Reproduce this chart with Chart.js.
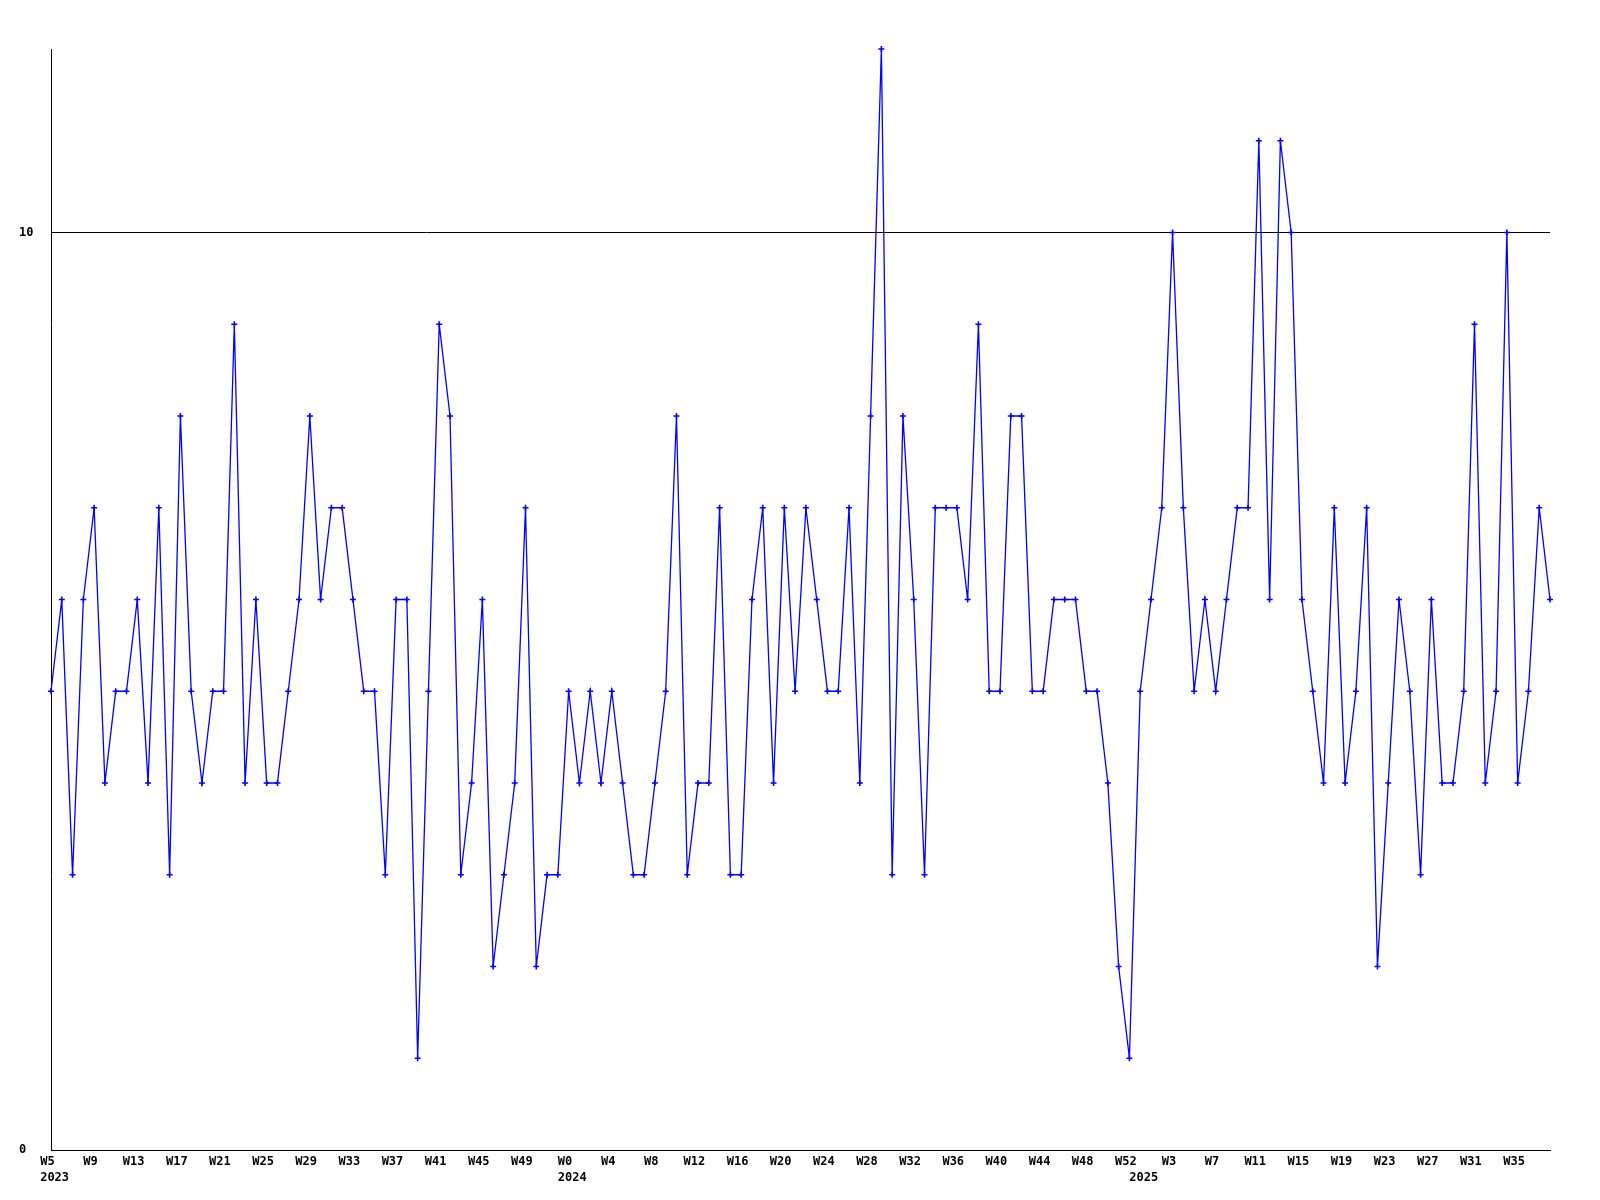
<!DOCTYPE html>
<html>
<head>
<meta charset="utf-8">
<script src="https://cdn.jsdelivr.net/npm/chart.js@4/dist/chart.umd.min.js"></script>
<style>
  html, body { margin: 0; padding: 0; background: #ffffff; }
  canvas { display: block; }
</style>
</head>
<body>
<canvas id="c" width="1600" height="1200"></canvas>
<script>
// ---- data ----
const weeks2023 = ["W5","W6","W7","W8","W9","W10","W11","W12","W13","W14","W15","W16","W17","W18","W19","W20","W21","W22","W23","W24","W25","W26","W27","W28","W29","W30","W31","W32","W33","W34","W35","W36","W37","W38","W39","W40","W41","W42","W43","W44","W45","W46","W47","W48","W49","W50","W51","W52"];
const weeks2024 = ["W0","W1","W2","W3","W4","W5","W6","W7","W8","W9","W10","W11","W12","W13","W14","W15","W16","W17","W18","W19","W20","W21","W22","W23","W24","W25","W26","W27","W28","W29","W30","W31","W32","W33","W34","W35","W36","W37","W38","W39","W40","W41","W42","W43","W44","W45","W46","W47","W48","W49","W50","W51","W52"];
const weeks2025 = ["W0","W1","W2","W3","W4","W5","W6","W7","W8","W9","W10","W11","W12","W13","W14","W15","W16","W17","W18","W19","W20","W21","W22","W23","W24","W25","W26","W27","W28","W29","W30","W31","W32","W33","W34","W35","W36","W37","W38"];
const years = ["2023", "2024", "2025"];

const values = [
  5,6,3,6,7,4,5,5,6,4,
  7,3,8,5,4,5,5,9,4,6,
  4,4,5,6,8,6,7,7,6,5,
  5,3,6,6,1,5,9,8,3,4,
  6,2,3,4,7,2,3,3,5,4,
  5,4,5,4,3,3,4,5,8,3,
  4,4,7,3,3,6,7,4,7,5,
  7,6,5,5,7,4,8,12,3,8,
  6,3,7,7,7,6,9,5,5,8,
  8,5,5,6,6,6,5,5,4,2,
  1,5,6,7,10,7,5,6,5,6,
  7,7,11,6,11,10,6,5,4,7,
  4,5,7,2,4,6,5,3,6,4,
  4,5,9,4,5,10,4,5,7,6
];
const yTicks = [0, 10];
const yMin = 0, yMax = 12;
const labelEvery = 4;

// ---- build ----
const categories = weeks2023.concat(weeks2024, weeks2025);
const yearStart = {};
yearStart[0] = years[0];
yearStart[weeks2023.length] = years[1];
yearStart[weeks2023.length + weeks2024.length] = years[2];

const FONT = { family: "'DejaVu Sans Mono', 'Liberation Mono', monospace", size: 12, weight: 'bold', lineHeight: 1.34 };

new Chart(document.getElementById('c'), {
  type: 'line',
  data: {
    labels: categories,
    datasets: [{
      data: values,
      borderColor: '#0000ff',
      borderWidth: 1.3,
      tension: 0,
      fill: false,
      pointStyle: 'cross',
      pointRadius: 3,
      pointBorderColor: '#0000ff',
      pointBorderWidth: 1.6,
      clip: false
    }]
  },
  options: {
    responsive: false,
    animation: false,
    devicePixelRatio: 1,
    layout: { padding: { top: 49, right: 50, left: 19, bottom: 0 } },
    plugins: { legend: { display: false }, tooltip: { enabled: false } },
    scales: {
      x: {
        type: 'category',
        offset: false,
        grid: { display: false, drawTicks: false },
        border: { display: true, color: '#000000', width: 1 },
        ticks: {
          autoSkip: false,
          maxRotation: 0,
          minRotation: 0,
          padding: 4,
          color: '#000000',
          font: FONT,
          callback: function (val, index) {
            const week = (index % labelEvery === 0) ? categories[index] + ' ' : '';
            if (yearStart[index] !== undefined) {
              return [week, ' ' + yearStart[index]];
            }
            return week;
          }
        },
        afterFit: function (scale) { scale.height = 50; }
      },
      y: {
        min: yMin,
        max: yMax,
        grid: {
          drawTicks: false,
          color: function (ctx) { return (ctx.tick && ctx.tick.value === 10) ? '#000000' : 'rgba(0,0,0,0)'; },
          lineWidth: 1
        },
        border: { display: true, color: '#000000', width: 1 },
        afterBuildTicks: function (scale) { scale.ticks = yTicks.map(v => ({ value: v })); },
        ticks: {
          crossAlign: 'far',
          padding: 4,
          color: '#000000',
          font: { family: FONT.family, size: 12, weight: 'bold' }
        },
        afterFit: function (scale) { scale.width = 32; }
      }
    }
  }
});
</script>
</body>
</html>
